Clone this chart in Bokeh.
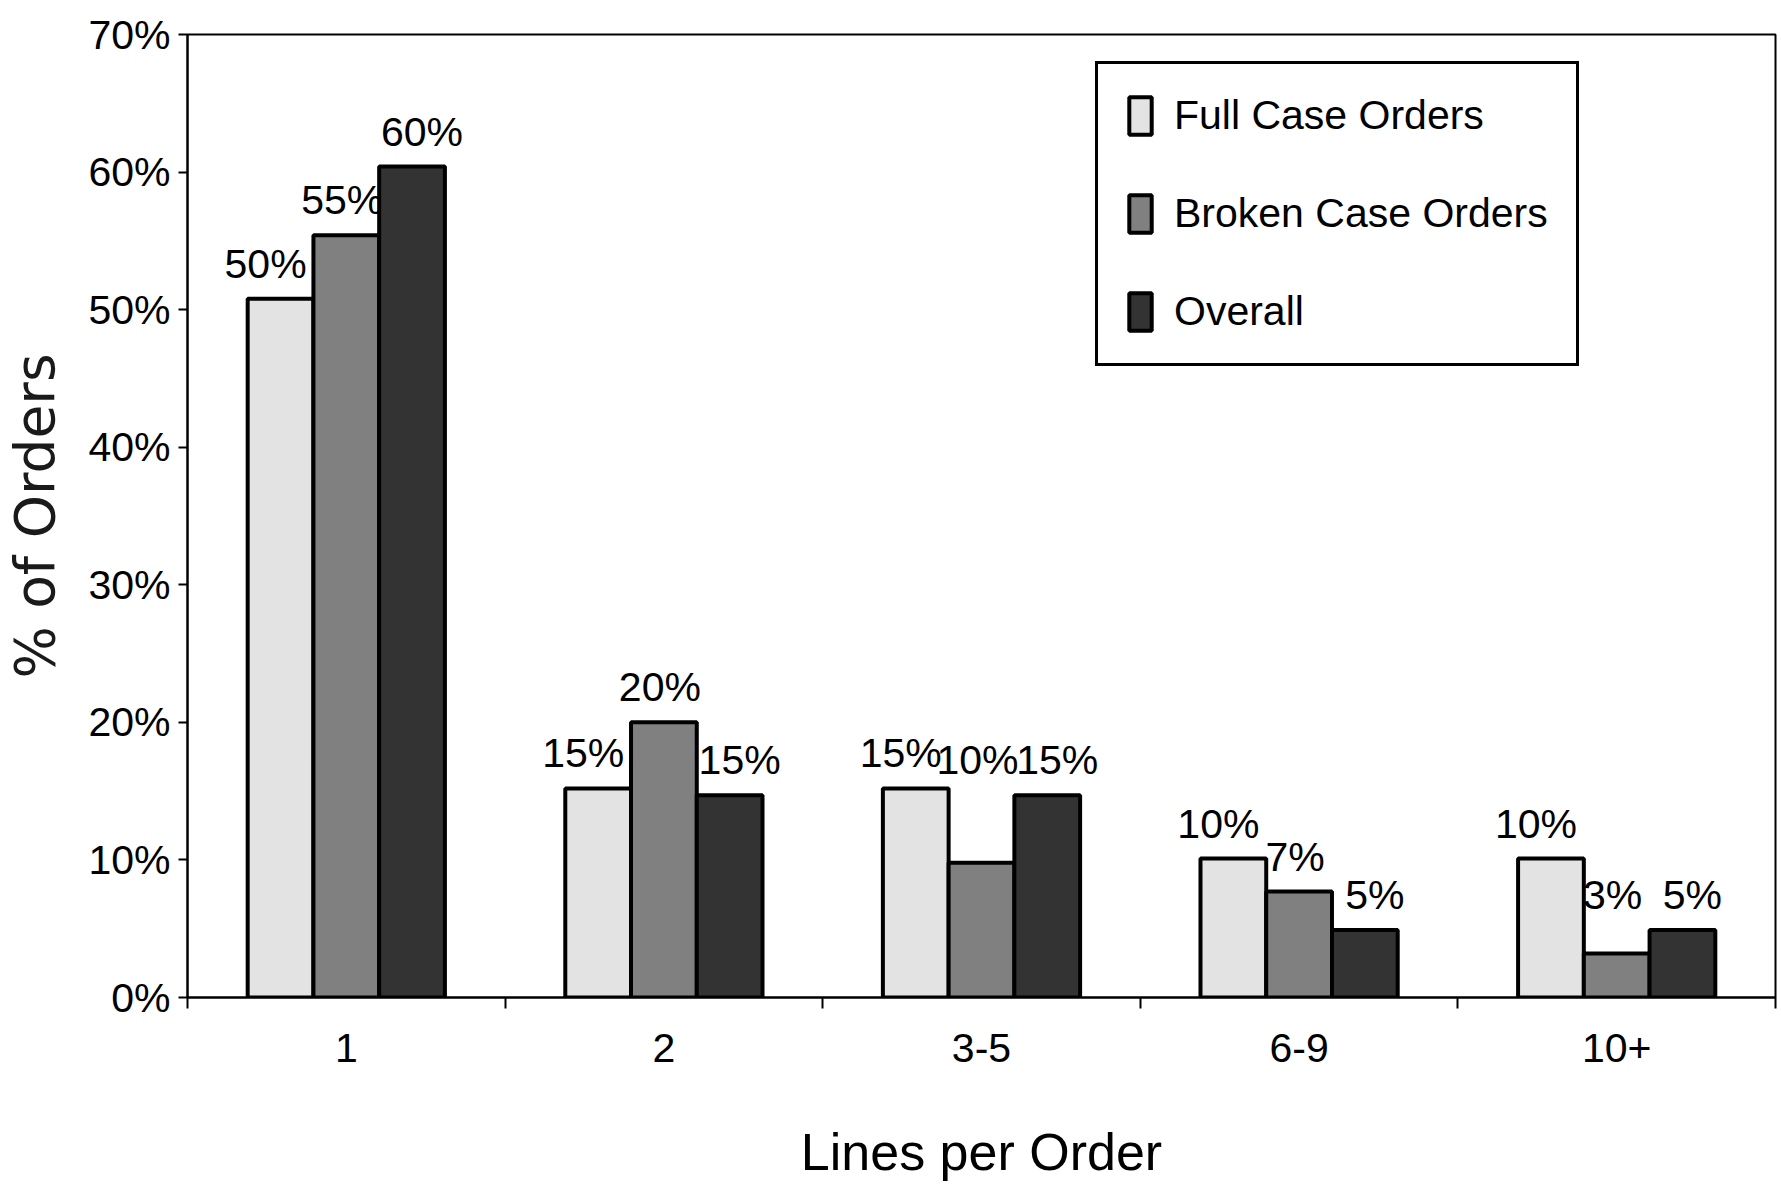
from bokeh.plotting import figure
from bokeh.models import Range1d, FixedTicker, PrintfTickFormatter, ColumnDataSource, Legend, LegendItem
from bokeh.core.properties import value
from bokeh.embed import file_html
from bokeh.resources import INLINE

categories = ["1", "2", "3-5", "6-9", "10+"]
series_names = ["Full Case Orders", "Broken Case Orders", "Overall"]
full_case = [50.8, 15.2, 15.2, 10.1, 10.1]
broken_case = [55.4, 20.0, 9.8, 7.7, 3.2]
overall = [60.4, 14.7, 14.7, 4.9, 4.9]
full_labels = ["50%", "15%", "15%", "10%", "10%"]
broken_labels = ["55%", "20%", "10%", "7%", "3%"]
overall_labels = ["60%", "15%", "15%", "5%", "5%"]
y_ticks = [0, 10, 20, 30, 40, 50, 60, 70]

FONT = "Liberation Sans"
colors = ["#e3e3e3", "#808080", "#333333"]
bar_w = 0.207
offsets = [-bar_w, 0.0, bar_w]
label_dx = [-15, -4, 10]
FS = "41px"

p = figure(width=1781, height=1200, output_backend="svg", toolbar_location=None,
           x_range=Range1d(0, len(categories)), y_range=Range1d(0, 70),
           min_border_left=182, min_border_right=6, min_border_top=34, min_border_bottom=203)
p.background_fill_color = "white"
p.border_fill_color = "white"
p.outline_line_color = "black"
p.outline_line_width = 2
p.xgrid.visible = False
p.ygrid.visible = False

series = [full_case, broken_case, overall]
labels = [full_labels, broken_labels, overall_labels]
centers = [i + 0.5 for i in range(len(categories))]

legend_items = []
for s, (vals, labs) in enumerate(zip(series, labels)):
    xs = [c + offsets[s] for c in centers]
    # label anchor: a middle bar lower than both neighbours gets its label lifted
    ly = []
    for i, v in enumerate(vals):
        if s == 1:
            ly.append(max(v, min(series[0][i], series[2][i])))
        else:
            ly.append(v)
    src = ColumnDataSource(dict(x=xs, top=vals, ly=ly, lab=labs))
    r = p.vbar(x="x", top="top", bottom=0, width=bar_w, source=src,
               fill_color=colors[s], line_color="black", line_width=4)
    legend_items.append(LegendItem(label=series_names[s], renderers=[r]))
    p.text(x="x", y="ly", text="lab", source=src, text_align="center",
           text_baseline="bottom", x_offset=label_dx[s], y_offset=-12,
           text_font=value(FONT), text_font_size=FS, text_color="black")

# x axis
xa = p.xaxis[0]
xa.ticker = FixedTicker(ticks=centers, minor_ticks=list(range(len(categories) + 1)))
xa.major_label_overrides = {c: cat for c, cat in zip(centers, categories)}
xa.major_tick_line_color = None
xa.major_tick_out = 0
xa.major_tick_in = 0
xa.minor_tick_line_color = "black"
xa.minor_tick_line_width = 2
xa.minor_tick_out = 11
xa.minor_tick_in = 0
xa.axis_line_color = "black"
xa.axis_line_width = 2
xa.major_label_text_font = FONT
xa.major_label_text_font_size = FS
xa.major_label_text_color = "black"
xa.major_label_standoff = 25
xa.axis_label = "Lines per Order"
xa.axis_label_text_font = FONT
xa.axis_label_text_font_size = "52px"
xa.axis_label_text_font_style = "normal"
xa.axis_label_text_color = "black"
xa.axis_label_standoff = 58

# y axis
ya = p.yaxis[0]
ya.ticker = FixedTicker(ticks=y_ticks)
ya.formatter = PrintfTickFormatter(format="%d%%")
ya.major_tick_line_color = "black"
ya.major_tick_line_width = 2
ya.major_tick_out = 9
ya.major_tick_in = 0
ya.minor_tick_line_color = None
ya.axis_line_color = "black"
ya.axis_line_width = 2
ya.major_label_text_font = FONT
ya.major_label_text_font_size = FS
ya.major_label_text_color = "black"
ya.major_label_standoff = 8
ya.axis_label = "% of Orders"
ya.axis_label_text_font = "DejaVu Sans"
ya.axis_label_text_font_size = "55px"
ya.axis_label_text_font_style = "normal"
ya.axis_label_text_color = "#1a1a1a"
ya.axis_label_standoff = 18

legend = Legend(items=legend_items, location=(908, 631))
legend.border_line_color = "black"
legend.border_line_width = 3
legend.border_line_alpha = 1.0
legend.background_fill_color = "white"
legend.background_fill_alpha = 1
legend.glyph_width = 28
legend.glyph_height = 47
legend.label_height = 47
legend.spacing = 51
legend.padding = 28
legend.margin = 0
legend.label_standoff = 20
legend.label_text_font = FONT
legend.label_text_font_size = FS
legend.label_text_color = "black"
legend.label_text_baseline = "middle"
p.add_layout(legend, "center")

open("out.html", "w").write(file_html(p, INLINE))
